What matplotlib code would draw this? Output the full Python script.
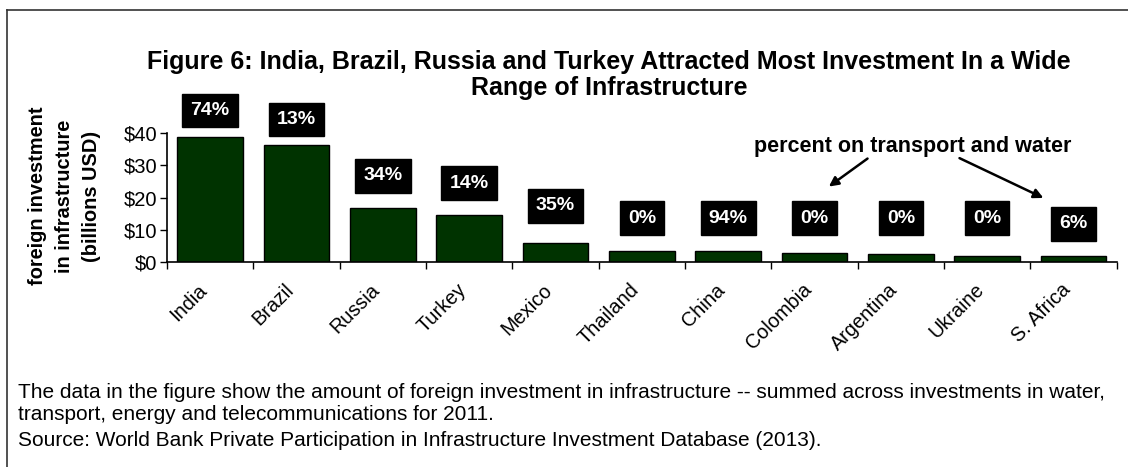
import matplotlib
matplotlib.use('Agg')
import matplotlib.pyplot as plt
from matplotlib.lines import Line2D
from matplotlib.transforms import ScaledTranslation

plt.rcParams['font.family'] = ['Liberation Sans', 'DejaVu Sans']

# values (billions USD, 2011)
countries = ['India', 'Brazil', 'Russia', 'Turkey', 'Mexico', 'Thailand',
             'China', 'Colombia', 'Argentina', 'Ukraine', 'S. Africa']
investment = [38.8, 36.3, 16.7, 14.5, 5.9, 3.4, 3.4, 2.8, 2.4, 1.9, 1.9]
pct_transport_water = ['74%', '13%', '34%', '14%', '35%', '0%',
                       '94%', '0%', '0%', '0%', '6%']
# height of the percent boxes (data units)
label_y = [47.1, 44.3, 26.7, 24.5, 17.4, 13.6, 13.6, 13.6, 13.6, 13.6, 11.8]
yticks = [0, 10, 20, 30, 40]

fig = plt.figure(figsize=(11.28, 4.67), dpi=100)
ax = fig.add_axes([0.148, 0.439, 0.842, 0.276])

x = list(range(len(countries)))
ax.bar(x, investment, width=0.76, color='#003300', edgecolor='black', linewidth=1.0)

ax.set_xlim(-0.5, len(countries) - 0.5)
ax.set_ylim(0, 40)
ax.set_yticks(yticks)
ax.set_yticklabels(['$%d' % v for v in yticks], fontsize=14.5)
ax.tick_params(axis='y', direction='out', length=5, width=1, pad=2)

ax.set_xticks(x)
ax.set_xticklabels(countries, rotation=45, ha='right', va='center',
                   rotation_mode='anchor', fontsize=14.3)
ax.tick_params(axis='x', which='major', length=0, pad=18)
ax.set_xticks([i - 0.5 for i in range(len(countries) + 1)], minor=True)
ax.tick_params(axis='x', which='minor', direction='out', length=5, width=1)
# nudge country names a little to the left, like the original
shift = ScaledTranslation(-6 / 100, 0, fig.dpi_scale_trans)
for lbl in ax.get_xticklabels():
    lbl.set_transform(lbl.get_transform() + shift)

for s in ['top', 'right']:
    ax.spines[s].set_visible(False)
for s in ['left', 'bottom']:
    ax.spines[s].set_linewidth(1.2)

for xi, lab, ly in zip(x, pct_transport_water, label_y):
    ax.text(xi, ly, lab, ha='center', va='center', color='white', fontsize=14,
            fontweight='bold', clip_on=False,
            bbox=dict(boxstyle='square,pad=0.42', facecolor='black', edgecolor='black'))

ax.text(8.14, 35.7, 'percent on transport and water', ha='center', va='center',
        fontsize=15.5, fontweight='bold', clip_on=False)
arrow = dict(arrowstyle='-|>', color='black', lw=1.8, mutation_scale=14)
ax.annotate('', xy=(7.14, 22.9), xytext=(7.64, 32.6), arrowprops=arrow, annotation_clip=False)
ax.annotate('', xy=(9.68, 19.5), xytext=(8.65, 32.6), arrowprops=arrow, annotation_clip=False)

fig.text(0.54, 0.867, 'Figure 6: India, Brazil, Russia and Turkey Attracted Most Investment In a Wide',
         ha='center', va='center', fontsize=18, fontweight='bold')
fig.text(0.54, 0.812, 'Range of Infrastructure', ha='center', va='center',
         fontsize=18, fontweight='bold')

fig.text(0.057, 0.58, 'foreign investment\nin infrastructure\n(billions USD)',
         rotation=90, ha='center', va='center', multialignment='center',
         fontsize=14.4, fontweight='bold', linespacing=1.55)

fig.text(0.016, 1 - 392 / 467,
         'The data in the figure show the amount of foreign investment in infrastructure -- '
         'summed across investments in water,', ha='left', va='center', fontsize=15)
fig.text(0.016, 1 - 414 / 467, 'transport, energy and telecommunications for 2011.',
         ha='left', va='center', fontsize=15)
fig.text(0.016, 1 - 441 / 467,
         'Source: World Bank Private Participation in Infrastructure Investment Database (2013).',
         ha='left', va='center', fontsize=15)

# frame lines (top and left only visible in the reference)
fig.add_artist(Line2D([0.0062, 1.0], [0.979, 0.979], color='#333333', lw=1.2))
fig.add_artist(Line2D([0.0062, 0.0062], [0.0, 0.979], color='#333333', lw=1.2))

fig.savefig('out.png', dpi=100)
